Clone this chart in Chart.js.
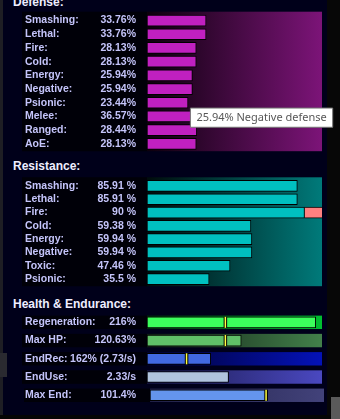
<!DOCTYPE html>
<html>
<head>
<meta charset="utf-8">
<script src="https://cdn.jsdelivr.net/npm/chart.js@4.4.1/dist/chart.umd.min.js"></script>
<style>
  body { margin: 0; width: 340px; height: 419px; background: #00001a; position: relative; overflow: hidden; font-family: "Liberation Sans", Arial, sans-serif; }
  .strip { position: absolute; }
  .hdr { position: absolute; left: 13px; font-weight: bold; font-size: 12px; line-height: 14px; color: #eeeeff; white-space: nowrap; }
  canvas { position: absolute; left: 0; }
</style>
</head>
<body>
<div class="strip" style="left:0;top:0;width:3px;height:419px;background:#1e1e24"></div>
<div class="strip" style="left:0;top:353px;width:7px;height:24px;background:#2a2a30"></div>
<div class="strip" style="left:327px;top:0;width:13px;height:419px;background:#070707"></div>
<div class="strip" style="left:0;top:415px;width:340px;height:4px;background:#050505"></div>
<div class="strip" style="left:331px;top:397px;width:9px;height:22px;background:#5a5a5a"></div>

<div class="hdr" style="top:-5px">Defense:</div>
<div class="hdr" style="top:159px">Resistance:</div>
<div class="hdr" style="top:297px">Health &amp; Endurance:</div>

<canvas id="defChart" width="340" height="160" style="top:0"></canvas>
<canvas id="resChart" width="340" height="135" style="top:160px"></canvas>
<canvas id="hpChart" width="340" height="124" style="top:295px"></canvas>

<script>
// defense
const defenseNames = ["Smashing", "Lethal", "Fire", "Cold", "Energy", "Negative", "Psionic", "Melee", "Ranged", "AoE"];
const defenseValues = [33.76, 33.76, 28.13, 28.13, 25.94, 25.94, 23.44, 36.57, 28.44, 28.13];
const defenseTicks = ["33.76%", "33.76%", "28.13%", "28.13%", "25.94%", "25.94%", "23.44%", "36.57%", "28.44%", "28.13%"];
const hoverIndex = 5; // row under the mouse (tooltip)

// resistance
const resistNames = ["Smashing", "Lethal", "Fire", "Cold", "Energy", "Negative", "Toxic", "Psionic"];
const resistValues = [85.91, 85.91, 90, 59.38, 59.94, 59.94, 47.46, 35.5];
const resistOvercap = [null, null, 10, null, null, null, null, null];
const resistTicks = ["85.91 %", "85.91 %", "90 %", "59.38 %", "59.94 %", "59.94 %", "47.46 %", "35.5 %"];

// health & endurance, each row has its own scale
const healthNames = ["Regeneration", "Max HP", "EndRec", "EndUse", "Max End"];
const healthValues = [216, 120.63, 162, 2.33, 101.4];
const healthTicks = ["216%", "120.63%", "162% (2.73/s)", "2.33/s", "101.4%"];
const healthMarks = [100, 100, 100, null, 100];
const healthMin = [0, 0, 0, 0, -2.6];
const healthMax = [224, 224, 445, 5, 148.5];

const healthColors = ["#3cff5c", "#60c068", "#4169e1", "#b0c4de", "#6495ed"];
const healthBands = [["#002a0a", "#00c030"], ["#101c14", "#42804a"], ["#000030", "#0412b8"], ["#181848", "#4a48c0"], ["#202048", "#42427a"]];

const labelColor = "#c4c4fa";
const labelFont = { family: "Liberation Sans", size: 10.5, weight: "bold" };

function baseOptions(valueTicks, padTop, padBottom) {
  return {
    indexAxis: "y",
    responsive: false,
    animation: false,
    events: [],
    layout: { padding: { left: 25, right: 18, top: padTop, bottom: padBottom } },
    scales: {
      // names: zero width, mirrored so the text runs to the right unclipped
      y: {
        type: "category",
        position: "left",
        weight: 2,
        offset: true,
        grid: { display: false },
        border: { display: false },
        ticks: {
          autoSkip: false,
          mirror: true,
          crossAlign: "near",
          padding: 0,
          color: labelColor,
          font: labelFont,
          callback: function (v) { return this.getLabelForValue(v) + ":"; }
        },
        afterFit: function (axis) { axis.width = 0; }
      },
      yv: {
        type: "category",
        labels: valueTicks,
        position: "left",
        weight: 1,
        offset: true,
        grid: { display: false },
        border: { display: false },
        ticks: { autoSkip: false, crossAlign: "near", padding: 3, color: labelColor, font: labelFont },
        afterFit: function (axis) { axis.width = 122; }
      }
    },
    plugins: { legend: { display: false }, tooltip: { enabled: false } }
  };
}

function panelPlugin(from, to) {
  return {
    id: "panel",
    beforeDraw: function (chart) {
      const a = chart.chartArea;
      const ctx = chart.ctx;
      ctx.save();
      ctx.fillStyle = "#000008";
      ctx.fillRect(22, a.top - 2, a.left - 22, a.bottom - a.top + 2.5);
      const g = ctx.createLinearGradient(a.left, 0, a.right, 0);
      g.addColorStop(0, from);
      g.addColorStop(1, to);
      ctx.fillStyle = g;
      ctx.fillRect(a.left, a.top - 2, a.right - a.left, a.bottom - a.top + 2.5);
      ctx.restore();
    }
  };
}

Chart.Tooltip.positioners.underMouse = function (items) {
  if (!items.length) return false;
  const el = items[0].element;
  return { x: el.x - 2, y: el.y + 19 };
};

// Defense
const defOptions = baseOptions(defenseTicks, 13.7, 6.3);
defOptions.scales.x = { min: 0, max: 100, display: false };
defOptions.plugins.tooltip = {
  enabled: true,
  position: "underMouse",
  xAlign: "left",
  yAlign: "top",
  caretSize: 0,
  caretPadding: 0,
  cornerRadius: 0,
  displayColors: false,
  backgroundColor: "#ffffff",
  borderColor: "#767676",
  borderWidth: 1,
  bodyColor: "#575757",
  bodyFont: { family: "Noto Sans", size: 11, lineHeight: 1.2 },
  padding: { x: 6, y: 3 },
  callbacks: {
    title: function () { return ""; },
    label: function (ctx) { return ctx.raw + "% " + ctx.label + " defense"; }
  }
};

const defChart = new Chart(document.getElementById("defChart"), {
  type: "bar",
  data: {
    labels: defenseNames,
    datasets: [{
      data: defenseValues,
      backgroundColor: "#c020c0",
      borderColor: "#000000",
      borderWidth: 1,
      borderSkipped: false,
      barThickness: 11
    }]
  },
  options: defOptions,
  plugins: [panelPlugin("#0c000c", "#7c1478")]
});
defChart.tooltip.setActiveElements([{ datasetIndex: 0, index: hoverIndex }], { x: 0, y: 0 });
defChart.update();

// Resistance
const resOptions = baseOptions(resistTicks, 19.3, 3.7);
resOptions.scales.x = { min: 0, max: 100, display: false, stacked: true };
resOptions.scales.y.stacked = true;

new Chart(document.getElementById("resChart"), {
  type: "bar",
  data: {
    labels: resistNames,
    datasets: [{
      data: resistValues,
      backgroundColor: "#00c0c0",
      borderColor: "#000000",
      borderWidth: 1,
      borderSkipped: false,
      barThickness: 11
    }, {
      data: resistOvercap,
      backgroundColor: "#ff8080",
      borderColor: "#000000",
      borderWidth: { top: 1, bottom: 1, left: 0, right: 0 },
      borderSkipped: false,
      barThickness: 11
    }]
  },
  options: resOptions,
  plugins: [panelPlugin("#000c0c", "#007a7a")]
});

// Health & Endurance
const hpOptions = baseOptions(healthTicks, 18.2, 14.6);
hpOptions.scales.x = { display: false };
healthNames.forEach(function (n, i) {
  hpOptions.scales["x" + i] = { type: "linear", min: healthMin[i], max: healthMax[i], display: false };
});

const hpDatasets = healthValues.map(function (v, i) {
  return {
    data: healthNames.map(function (n, j) { return j === i ? v : null; }),
    xAxisID: "x" + i,
    grouped: false,
    backgroundColor: healthColors[i],
    borderColor: "#000000",
    borderWidth: 1,
    borderSkipped: false,
    barThickness: 11
  };
});

const hpPlugin = {
  id: "hpRows",
  beforeDraw: function (chart) {
    const a = chart.chartArea;
    const ctx = chart.ctx;
    const y = chart.scales.y;
    ctx.save();
    healthNames.forEach(function (n, i) {
      const cy = y.getPixelForValue(i);
      const start = chart.scales["x" + i].getPixelForValue(0);
      const end = i === 4 ? a.right + 2 : a.right;
      ctx.fillStyle = "#000008";
      ctx.fillRect(i === 4 ? 24 : 22, cy - 6.7, start - (i === 4 ? 24 : 22), 13.4);
      const g = ctx.createLinearGradient(start, 0, end, 0);
      g.addColorStop(0, healthBands[i][0]);
      g.addColorStop(1, healthBands[i][1]);
      ctx.fillStyle = g;
      ctx.fillRect(start, cy - 6.7, end - start, 13.4);
    });
    ctx.restore();
  },
  afterDatasetsDraw: function (chart) {
    const ctx = chart.ctx;
    const y = chart.scales.y;
    ctx.save();
    healthMarks.forEach(function (m, i) {
      if (m === null) return;
      const x = chart.scales["x" + i].getPixelForValue(m);
      const cy = y.getPixelForValue(i);
      ctx.fillStyle = "#000000";
      ctx.fillRect(x - 1.5, cy - 5.5, 3.5, 11);
      ctx.fillStyle = "#ffff40";
      ctx.fillRect(x - 0.5, cy - 5.5, 1.5, 11);
    });
    ctx.restore();
  }
};

new Chart(document.getElementById("hpChart"), {
  type: "bar",
  data: { labels: healthNames, datasets: hpDatasets },
  options: hpOptions,
  plugins: [hpPlugin]
});
</script>
</body>
</html>
